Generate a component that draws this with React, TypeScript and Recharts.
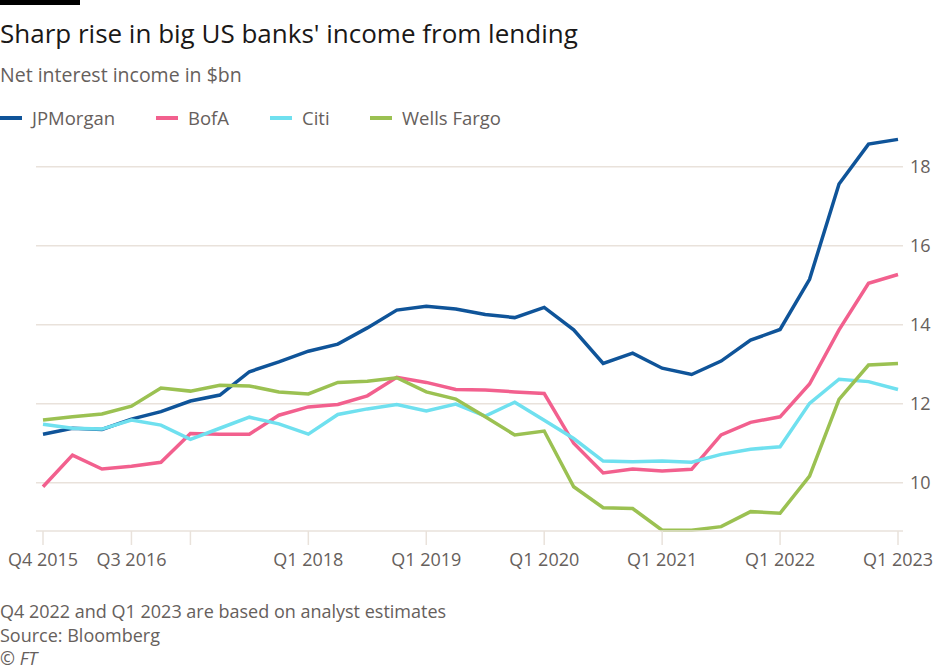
import { LineChart, Line, XAxis, YAxis, CartesianGrid } from "recharts";

const quarters = [
  "Q4 2015",
  "Q1 2016", "Q2 2016", "Q3 2016", "Q4 2016",
  "Q1 2017", "Q2 2017", "Q3 2017", "Q4 2017",
  "Q1 2018", "Q2 2018", "Q3 2018", "Q4 2018",
  "Q1 2019", "Q2 2019", "Q3 2019", "Q4 2019",
  "Q1 2020", "Q2 2020", "Q3 2020", "Q4 2020",
  "Q1 2021", "Q2 2021", "Q3 2021", "Q4 2021",
  "Q1 2022", "Q2 2022", "Q3 2022", "Q4 2022",
  "Q1 2023",
];

const jpmorgan = [
  11.23, 11.38, 11.35, 11.61, 11.8, 12.07, 12.22, 12.81, 13.06, 13.33,
  13.51, 13.92, 14.37, 14.47, 14.4, 14.26, 14.18, 14.44, 13.87, 13.02,
  13.28, 12.9, 12.74, 13.08, 13.61, 13.88, 15.15, 17.56, 18.57, 18.69,
];

const bofa = [
  9.9, 10.7, 10.35, 10.42, 10.52, 11.25, 11.23, 11.23, 11.71, 11.92,
  11.98, 12.2, 12.67, 12.54, 12.36, 12.35, 12.3, 12.26, 11.0, 10.25,
  10.35, 10.3, 10.34, 11.21, 11.53, 11.67, 12.5, 13.87, 15.05, 15.27,
];

const citi = [
  11.48, 11.38, 11.36, 11.59, 11.46, 11.1, 11.38, 11.66, 11.49, 11.23,
  11.73, 11.87, 11.98, 11.82, 11.99, 11.69, 12.04, 11.58, 11.12, 10.55,
  10.53, 10.55, 10.52, 10.72, 10.85, 10.91, 12.01, 12.62, 12.56, 12.36,
];

const wellsFargo = [
  11.59, 11.67, 11.74, 11.94, 12.4, 12.32, 12.47, 12.45, 12.3, 12.25,
  12.54, 12.57, 12.66, 12.3, 12.12, 11.67, 11.21, 11.31, 9.9, 9.37,
  9.35, 8.8, 8.8, 8.89, 9.27, 9.23, 10.17, 12.11, 12.98, 13.02,
];

const xTicks = [
  "Q4 2015", "Q3 2016", "Q1 2017", "Q1 2018", "Q1 2019",
  "Q1 2020", "Q1 2021", "Q1 2022", "Q1 2023",
];
const hiddenTickLabels = ["Q1 2017"];
const yTicks = [10, 12, 14, 16, 18];

const series = [
  { key: "jpmorgan", name: "JPMorgan", color: "#0f5499" },
  { key: "bofa", name: "BofA", color: "#f2608e" },
  { key: "citi", name: "Citi", color: "#6fe0ef" },
  { key: "wellsFargo", name: "Wells Fargo", color: "#9bc152" },
];

const data = quarters.map((q, i) => ({
  quarter: q,
  jpmorgan: jpmorgan[i],
  bofa: bofa[i],
  citi: citi[i],
  wellsFargo: wellsFargo[i],
}));

const font = "'Open Sans', sans-serif";
const grey = "#66605c";
const gridColor = "#e9e2db";

const legendX = [0, 156, 270, 370];

export default function App() {
  return (
    <div
      style={{
        position: "absolute",
        left: 0,
        top: 0,
        width: 940,
        height: 672,
        background: "#fff",
        fontFamily: font,
        overflow: "hidden",
      }}
    >
      <div style={{ position: "absolute", left: 0, top: 0, width: 80, height: 5, background: "#000" }} />
      <div
        style={{
          position: "absolute",
          left: 0,
          top: 16,
          fontSize: 26,
          lineHeight: "34px",
          color: "#1a1817",
          whiteSpace: "nowrap",
        }}
      >
        Sharp rise in big US banks' income from lending
      </div>
      <div
        style={{
          position: "absolute",
          left: 0,
          top: 62,
          fontSize: 19.5,
          lineHeight: "26px",
          color: grey,
          whiteSpace: "nowrap",
        }}
      >
        Net interest income in $bn
      </div>
      {series.map((s, i) => (
        <div key={s.key}>
          <div
            style={{
              position: "absolute",
              left: legendX[i],
              top: 116,
              width: 22,
              height: 4,
              background: s.color,
            }}
          />
          <div
            style={{
              position: "absolute",
              left: legendX[i] + 32,
              top: 105,
              fontSize: 18.5,
              lineHeight: "26px",
              color: grey,
              whiteSpace: "nowrap",
            }}
          >
            {s.name}
          </div>
        </div>
      ))}

      <div style={{ position: "absolute", left: 0, top: 0 }}>
        <LineChart
          width={940}
          height={580}
          data={data}
          margin={{ top: 139, right: 0, left: 36, bottom: 9 }}
        >
          <CartesianGrid
            vertical={false}
            horizontalValues={yTicks}
            stroke={gridColor}
            strokeWidth={1.5}
          />
          <XAxis
            dataKey="quarter"
            ticks={xTicks}
            interval={0}
            padding={{ left: 7, right: 5 }}
            height={40}
            tickSize={14}
            tickMargin={8}
            axisLine={{ stroke: gridColor, strokeWidth: 1.5 }}
            tickLine={{ stroke: gridColor, strokeWidth: 1.5 }}
            tick={{ fill: grey, fontSize: 18, fontFamily: font }}
            tickFormatter={(v: string) => (hiddenTickLabels.includes(v) ? "" : v)}
          />
          <YAxis
            orientation="right"
            width={37}
            domain={[8.78, 18.7]}
            ticks={yTicks}
            axisLine={false}
            tickLine={false}
            tickMargin={1}
            tick={{ fill: grey, fontSize: 18, fontFamily: font }}
          />
          {series.map((s) => (
            <Line
              key={s.key}
              type="linear"
              dataKey={s.key}
              name={s.name}
              stroke={s.color}
              strokeWidth={3.5}
              dot={false}
              isAnimationActive={false}
            />
          ))}
        </LineChart>
      </div>

      <div
        style={{
          position: "absolute",
          left: 0,
          top: 600,
          fontSize: 18,
          lineHeight: "23.5px",
          color: grey,
          whiteSpace: "nowrap",
        }}
      >
        <div>Q4 2022 and Q1 2023 are based on analyst estimates</div>
        <div>Source: Bloomberg</div>
        <div style={{ fontStyle: "italic" }}>© FT</div>
      </div>
    </div>
  );
}
